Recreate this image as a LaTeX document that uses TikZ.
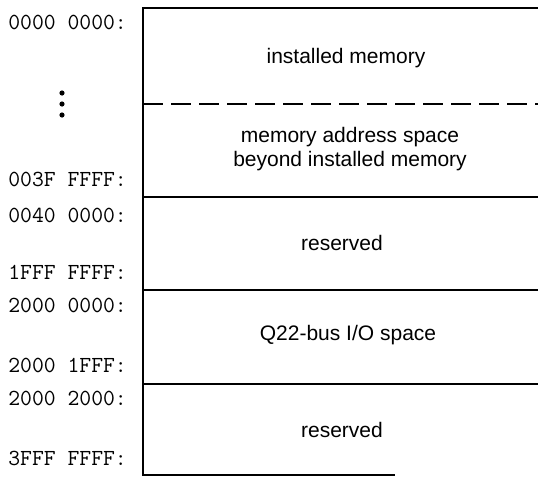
\documentclass[tikz,border=0pt]{standalone}
\usepackage{fontspec}
\setmainfont{Liberation Sans}
\usetikzlibrary{positioning}

\begin{document}
\begin{tikzpicture}[x=1pt, y=-1pt,
    region/.style={font=\fontsize{21}{24}\selectfont, align=center},
    addr/.style={anchor=east, inner sep=0pt, font=\ttfamily\fontsize{23}{24}\selectfont},
    divider/.style={line width=2.6pt}]
    \useasboundingbox (0,0) rectangle (538,477);

    % Frame of the map (open on the right)
    \coordinate (topright) at (538,8);
    \coordinate (topleft) at (143,8);
    \coordinate (botleft) at (143,475);
    \coordinate (botend) at (395,475);
    \draw[divider] (topright) -- (topleft) -- (botleft) -- (botend);

    % Region boundaries
    \foreach \y in {197, 290, 384} {
        \draw[divider] (143,\y) -- (538,\y);
    }
    \draw[divider, line width=2.2pt, dash pattern=on 20pt off 8pt] (143,104) -- (538,104);

    % Addresses
    \foreach \y/\a in {22/0000 0000:, 179/003F FFFF:, 215/0040 0000:, 272/1FFF FFFF:,
                       305/2000 0000:, 365/2000 1FFF:, 398/2000 2000:, 458/3FFF FFFF:} {
        \node[addr] (addr\y) at (127,\y) {\a};
    }

    % Vertical ellipsis
    \foreach \y in {93, 104, 115} {
        \fill (62,\y) circle (2.6);
    }

    % Regions
    \node[region] (installed) at (346,58) {installed memory};
    \node[region] (beyond) at (350,149) {memory address space\\beyond installed memory};
    \node[region] (reservedlow) at (342,243) {reserved};
    \node[region] (qbusio) at (348,335) {Q22-bus I/O space};
    \node[region] (reservedhigh) at (342,430) {reserved};
\end{tikzpicture}
\end{document}
